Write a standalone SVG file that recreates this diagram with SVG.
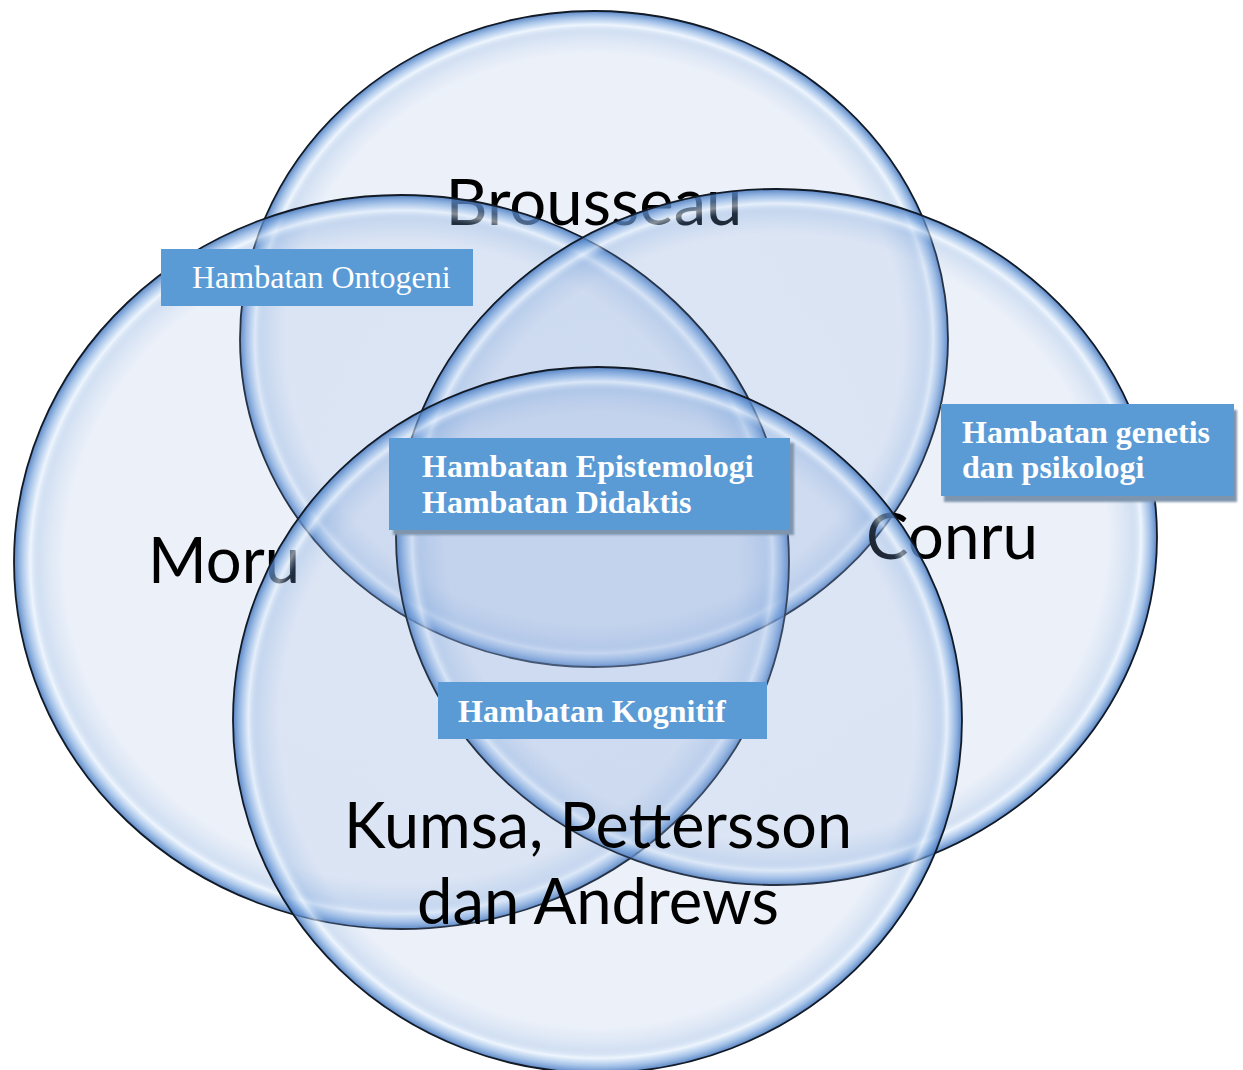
<svg xmlns="http://www.w3.org/2000/svg" width="1243" height="1070" viewBox="0 0 1243 1070">
<defs>
<radialGradient id="glass" cx="50%" cy="50%" r="50%">
<stop offset="0" stop-color="#8caadc" stop-opacity="0.165"/>
<stop offset="0.87" stop-color="#8caadc" stop-opacity="0.17"/>
<stop offset="0.935" stop-color="#6e9bd7" stop-opacity="0.3"/>
<stop offset="0.958" stop-color="#e2eefc" stop-opacity="0.6"/>
<stop offset="0.978" stop-color="#78a5de" stop-opacity="0.6"/>
<stop offset="1" stop-color="#4678be" stop-opacity="0.9"/>
</radialGradient>
<filter id="sh" x="-5%" y="-5%" width="115%" height="125%">
<feGaussianBlur stdDeviation="1"/>
</filter>
<style>
.c{fill:url(#glass);stroke:#121a26;stroke-width:1.8}
.lbl{font-family:Lato,"Open Sans","Liberation Sans",sans-serif;font-size:64px;fill:#000;text-anchor:middle}
.box{fill:#5b9bd5}
.shadow{fill:#7f95ad;filter:url(#sh)}
.bt{font-family:"Liberation Serif","Times New Roman",serif;font-size:32px;fill:#fff}
.b{font-weight:bold}
</style>
</defs>
<rect width="1243" height="1070" fill="#fff"/>
<g id="brousseau">
<ellipse class="c" cx="594" cy="339" rx="354" ry="328"/>
<text class="lbl" x="594" y="225" textLength="297" lengthAdjust="spacingAndGlyphs">Brousseau</text>
</g>
<g id="moru">
<ellipse class="c" cx="401.5" cy="562" rx="387.5" ry="367"/>
<text class="lbl" x="224" y="583" textLength="152" lengthAdjust="spacingAndGlyphs">Moru</text>
</g>
<g id="conru">
<ellipse class="c" cx="776.5" cy="537" rx="380.5" ry="348"/>
<text class="lbl" x="952" y="559" textLength="172" lengthAdjust="spacingAndGlyphs">Conru</text>
</g>
<g id="kumsa">
<ellipse class="c" cx="597.5" cy="720" rx="364.5" ry="353"/>
<text class="lbl" x="598" y="848" textLength="508" lengthAdjust="spacingAndGlyphs">Kumsa, Pettersson</text>
<text class="lbl" x="598" y="924" textLength="362" lengthAdjust="spacingAndGlyphs">dan Andrews</text>
</g>
<g id="box-ontogeni">
<rect class="box" x="161" y="249" width="312" height="57"/>
<text class="bt" x="192" y="288">Hambatan Ontogeni</text>
</g>
<g id="box-epistemologi">
<rect class="shadow" x="393" y="443" width="401" height="92"/>
<rect class="box" x="389" y="438" width="401" height="92"/>
<text class="bt b" x="422" y="477">Hambatan Epistemologi</text>
<text class="bt b" x="422" y="513">Hambatan Didaktis</text>
</g>
<g id="box-genetis">
<rect class="shadow" x="944" y="410" width="293" height="92"/>
<rect class="box" x="941" y="404" width="293" height="92"/>
<text class="bt b" x="962" y="443">Hambatan genetis</text>
<text class="bt b" x="962" y="478">dan psikologi</text>
</g>
<g id="box-kognitif">
<rect class="box" x="438" y="682" width="329" height="57"/>
<text class="bt b" x="458" y="722">Hambatan Kognitif</text>
</g>
</svg>
